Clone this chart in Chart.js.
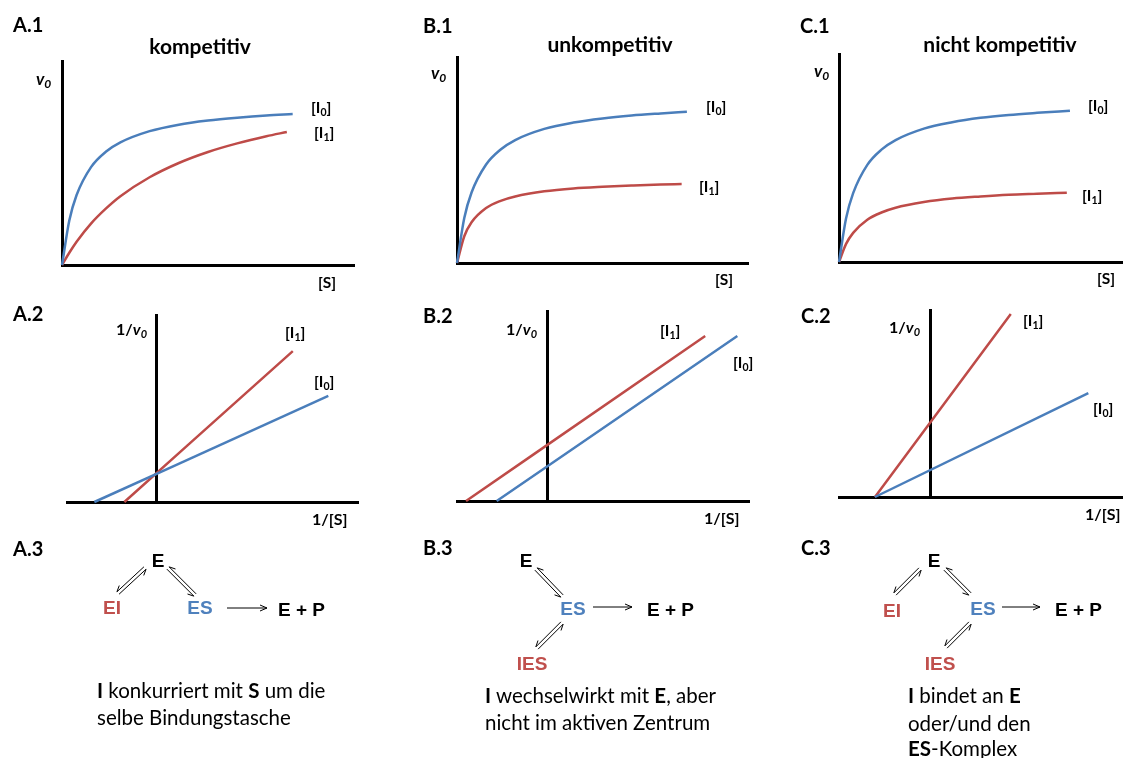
<!DOCTYPE html>
<html>
<head>
<meta charset="utf-8">
<script src="https://cdn.jsdelivr.net/npm/chart.js@4.4.1/dist/chart.umd.min.js"></script>
<style>
html,body{margin:0;padding:0;background:#fff;overflow:hidden}
#page{position:relative;width:1123px;height:758px}
canvas{position:absolute}
svg{position:absolute;left:0;top:0}
.t{position:absolute;white-space:nowrap;font-family:Lato,"Open Sans",sans-serif;line-height:1;transform:translateY(-50%);color:#000}
.panel{font-weight:700;font-size:20px}
.title{font-weight:700;font-size:21px;transform:translate(-50%,-50%)}
.lbl{font-weight:700;font-size:15.5px}
.lbl sub{font-size:10.5px;vertical-align:-3px}
.v{font-weight:700;font-size:17px}
.v sub{font-size:12px;vertical-align:-3px}
.ax{font-weight:700;font-size:16px}
.ax sub{font-size:11px;vertical-align:-3px}
.sp{font-family:"Liberation Sans",Arial,sans-serif;font-weight:700;font-size:19px;transform:translate(-50%,-50%)}
.spl{font-family:"Liberation Sans",Arial,sans-serif;font-weight:700;font-size:19px}
.red{color:#c0504d}
.blue{color:#4f81bd}
.txt{font-size:20.5px}
</style>
</head>
<body>
<div id="page">
  <canvas id="a1"></canvas><canvas id="b1"></canvas><canvas id="c1"></canvas>
  <canvas id="a2"></canvas><canvas id="b2"></canvas><canvas id="c2"></canvas>
  <svg id="sch" width="1123" height="758"></svg>

  <!-- Zeile 1 -->
  <div class="t panel" style="left:13px;top:24px">A.1</div>
  <div class="t panel" style="left:423px;top:25px">B.1</div>
  <div class="t panel" style="left:800px;top:25px">C.1</div>
  <div class="t title" style="left:200px;top:45px">kompetitiv</div>
  <div class="t title" style="left:610px;top:43px">unkompetitiv</div>
  <div class="t title" style="left:1000px;top:43px">nicht kompetitiv</div>
  <div class="t v" style="left:36px;top:80px"><i>v<sub>0</sub></i></div>
  <div class="t v" style="left:431px;top:74px"><i>v<sub>0</sub></i></div>
  <div class="t v" style="left:814px;top:72px"><i>v<sub>0</sub></i></div>
  <div class="t lbl" style="left:311px;top:109px">[I<sub>0</sub>]</div>
  <div class="t lbl" style="left:314px;top:134px">[I<sub>1</sub>]</div>
  <div class="t lbl" style="left:706px;top:108px">[I<sub>0</sub>]</div>
  <div class="t lbl" style="left:699px;top:188px">[I<sub>1</sub>]</div>
  <div class="t lbl" style="left:1088px;top:107px">[I<sub>0</sub>]</div>
  <div class="t lbl" style="left:1082px;top:197px">[I<sub>1</sub>]</div>
  <div class="t lbl" style="left:318px;top:283px">[S]</div>
  <div class="t lbl" style="left:715px;top:280px">[S]</div>
  <div class="t lbl" style="left:1097px;top:279px">[S]</div>

  <!-- Zeile 2 -->
  <div class="t panel" style="left:13px;top:313px">A.2</div>
  <div class="t panel" style="left:423px;top:315px">B.2</div>
  <div class="t panel" style="left:801px;top:315px">C.2</div>
  <div class="t ax" style="left:116px;top:330px">1/<i>v<sub>0</sub></i></div>
  <div class="t ax" style="left:506px;top:330px">1/<i>v<sub>0</sub></i></div>
  <div class="t ax" style="left:889px;top:328px">1/<i>v<sub>0</sub></i></div>
  <div class="t lbl" style="left:285px;top:334px">[I<sub>1</sub>]</div>
  <div class="t lbl" style="left:314px;top:383px">[I<sub>0</sub>]</div>
  <div class="t lbl" style="left:660px;top:332px">[I<sub>1</sub>]</div>
  <div class="t lbl" style="left:733px;top:364px">[I<sub>0</sub>]</div>
  <div class="t lbl" style="left:1023px;top:322px">[I<sub>1</sub>]</div>
  <div class="t lbl" style="left:1093px;top:410px">[I<sub>0</sub>]</div>
  <div class="t ax" style="left:312px;top:519px">1/[S]</div>
  <div class="t ax" style="left:704px;top:518px">1/[S]</div>
  <div class="t ax" style="left:1085px;top:514px">1/[S]</div>

  <!-- Zeile 3 -->
  <div class="t panel" style="left:13px;top:548px">A.3</div>
  <div class="t panel" style="left:423px;top:547px">B.3</div>
  <div class="t panel" style="left:801px;top:547px">C.3</div>

  <div class="t sp" style="left:158px;top:560px">E</div>
  <div class="t sp red" style="left:112px;top:607px">EI</div>
  <div class="t sp blue" style="left:200px;top:607px">ES</div>
  <div class="t spl" style="left:278px;top:609px">E + P</div>

  <div class="t sp" style="left:526px;top:560px">E</div>
  <div class="t sp blue" style="left:573px;top:608px">ES</div>
  <div class="t sp red" style="left:532px;top:663px">IES</div>
  <div class="t spl" style="left:647px;top:609px">E + P</div>

  <div class="t sp" style="left:934px;top:560px">E</div>
  <div class="t sp red" style="left:892px;top:610px">EI</div>
  <div class="t sp blue" style="left:983px;top:608px">ES</div>
  <div class="t sp red" style="left:940px;top:663px">IES</div>
  <div class="t spl" style="left:1055px;top:609px">E + P</div>

  <div class="t txt" style="left:97px;top:690px"><b>I</b> konkurriert mit <b>S</b> um die</div>
  <div class="t txt" style="left:97px;top:717px">selbe Bindungstasche</div>
  <div class="t txt" style="left:485px;top:695px"><b>I</b> wechselwirkt mit <b>E</b>, aber</div>
  <div class="t txt" style="left:485px;top:722px">nicht im aktiven Zentrum</div>
  <div class="t txt" style="left:908px;top:695px"><b>I</b> bindet an <b>E</b></div>
  <div class="t txt" style="left:908px;top:723px">oder/und den</div>
  <div class="t txt" style="left:908px;top:748px"><b>ES</b>-Komplex</div>
</div>

<script>
// Michaelis-Menten (v0 gegen [S])
const a1S0 = [0, 0.25, 0.5, 1, 1.5, 2, 3, 4, 5, 6, 7, 7.9];
const a1V0 = [0, 2.18, 3.43, 4.81, 5.55, 6.01, 6.56, 6.88, 7.08, 7.22, 7.33, 7.40];
const a1S1 = [0, 0.25, 0.5, 1, 1.5, 2, 3, 4, 5, 6, 7, 7.7];
const a1V1 = [0, 0.60, 1.14, 2.04, 2.76, 3.37, 4.30, 5.00, 5.54, 5.96, 6.31, 6.52];

const b1S0 = [0, 0.25, 0.5, 1, 1.5, 2, 3, 4, 5, 6, 7, 7.9];
const b1V0 = [0, 2.18, 3.42, 4.78, 5.51, 5.97, 6.51, 6.82, 7.02, 7.16, 7.26, 7.34];
const b1S1 = [0, 0.25, 0.5, 1, 1.5, 2, 3, 4, 5, 6, 7, 7.72];
const b1V1 = [0, 1.30, 1.98, 2.67, 3.02, 3.23, 3.48, 3.62, 3.70, 3.76, 3.81, 3.83];

const c1S0 = [0, 0.25, 0.5, 1, 1.5, 2, 3, 4, 5, 6, 7, 8.16];
const c1V0 = [0, 2.10, 3.31, 4.67, 5.40, 5.86, 6.41, 6.72, 6.93, 7.07, 7.17, 7.27];
const c1S1 = [0, 0.25, 0.5, 1, 1.5, 2, 3, 4, 5, 6, 7, 8.05];
const c1V1 = [0, 0.87, 1.40, 2.03, 2.38, 2.61, 2.88, 3.05, 3.15, 3.23, 3.28, 3.33];

// Lineweaver-Burk (1/v0 gegen 1/[S]), Anfangs- und Endpunkte
const a2X0 = [-2.12, 5.92], a2Y0 = [0, 5.67];
const a2X1 = [-1.09, 4.70], a2Y1 = [0, 8.07];
const b2X0 = [-1.75, 6.49], b2Y0 = [0, 8.68];
const b2X1 = [-2.80, 5.39], b2Y1 = [0, 8.68];
const c2X0 = [-1.97, 5.57], c2Y0 = [0, 5.55];
const c2X1 = [-1.97, 2.83], c2Y1 = [0, 9.79];

const BLUE = "#4a7ebb", RED = "#be4b48";

function axis() {
  return { type: "linear", grid: { display: false, drawTicks: false }, ticks: { display: false },
           border: { display: true, width: 3, color: "#000" } };
}

function plot(id, box, xr, yAtZero, sets) {
  const pad = 6;
  const cv = document.getElementById(id);
  cv.width = box[2] - box[0] + 2 * pad;
  cv.height = box[3] - box[1] + 2 * pad;
  cv.style.left = (box[0] - pad) + "px";
  cv.style.top = (box[1] - pad) + "px";
  const y = axis();
  y.min = 0; y.max = 10;
  y.position = yAtZero ? { x: 0 } : "left";
  const x = axis();
  x.min = xr[0]; x.max = xr[1];
  new Chart(cv, {
    type: "line",
    data: {
      datasets: sets.map(s => ({
        data: s.xs.map((v, i) => ({ x: v, y: s.ys[i] })),
        borderColor: s.c, borderWidth: 2.5, pointRadius: 0,
        cubicInterpolationMode: "monotone", clip: false, fill: false
      }))
    },
    options: {
      responsive: false, animation: false, events: [],
      layout: { padding: pad },
      plugins: { legend: { display: false }, tooltip: { enabled: false } },
      scales: { x: x, y: y }
    }
  });
}

plot("a1", [62, 61, 354, 265], [0, 10], false,
  [{ xs: a1S0, ys: a1V0, c: BLUE }, { xs: a1S1, ys: a1V1, c: RED }]);
plot("b1", [457, 57, 748, 263], [0, 10], false,
  [{ xs: b1S0, ys: b1V0, c: BLUE }, { xs: b1S1, ys: b1V1, c: RED }]);
plot("c1", [839, 54, 1122, 262], [0, 10], false,
  [{ xs: c1S0, ys: c1V0, c: BLUE }, { xs: c1S1, ys: c1V1, c: RED }]);

plot("a2", [67, 315, 358, 502], [-3.06, 6.94], true,
  [{ xs: a2X0, ys: a2Y0, c: BLUE }, { xs: a2X1, ys: a2Y1, c: RED }]);
plot("b2", [457, 311, 749, 501], [-3.11, 6.89], true,
  [{ xs: b2X0, ys: b2Y0, c: BLUE }, { xs: b2X1, ys: b2Y1, c: RED }]);
plot("c2", [839, 310, 1122, 497], [-3.24, 6.76], true,
  [{ xs: c2X0, ys: c2Y0, c: BLUE }, { xs: c2X1, ys: c2Y1, c: RED }]);

// Reaktionsschemata
const svg = document.getElementById("sch");
function path(d) {
  const p = document.createElementNS("http://www.w3.org/2000/svg", "path");
  p.setAttribute("d", d);
  p.setAttribute("stroke", "#000");
  p.setAttribute("stroke-width", "1");
  p.setAttribute("fill", "none");
  svg.appendChild(p);
}
// Gleichgewichtspfeil: zwei parallele Linien mit halben Spitzen
function eq(x1, y1, x2, y2) {
  const L = Math.hypot(x2 - x1, y2 - y1), ux = (x2 - x1) / L, uy = (y2 - y1) / L;
  const nx = -uy, ny = ux, d = 1.6, h = 6, w = 3;
  const ax1 = x1 + nx * d, ay1 = y1 + ny * d, ax2 = x2 + nx * d, ay2 = y2 + ny * d;
  path(`M${ax1},${ay1}L${ax2},${ay2}M${ax2},${ay2}L${ax2 - ux * h + nx * w},${ay2 - uy * h + ny * w}`);
  const bx1 = x1 - nx * d, by1 = y1 - ny * d, bx2 = x2 - nx * d, by2 = y2 - ny * d;
  path(`M${bx2},${by2}L${bx1},${by1}M${bx1},${by1}L${bx1 + ux * h - nx * w},${by1 + uy * h - ny * w}`);
}
function arrow(x1, x2, y) {
  path(`M${x1},${y}L${x2},${y}M${x2 - 7},${y - 3}L${x2},${y}L${x2 - 7},${y + 3}`);
}

eq(118, 593, 145, 568); eq(195, 595, 168, 568); arrow(227, 267, 608);
eq(562, 596, 536, 569); eq(537, 648, 562, 623); arrow(593, 632, 607);
eq(895, 594, 920, 569); eq(970, 594, 945, 569); eq(946, 647, 970, 623); arrow(1002, 1040, 607);
</script>
</body>
</html>
